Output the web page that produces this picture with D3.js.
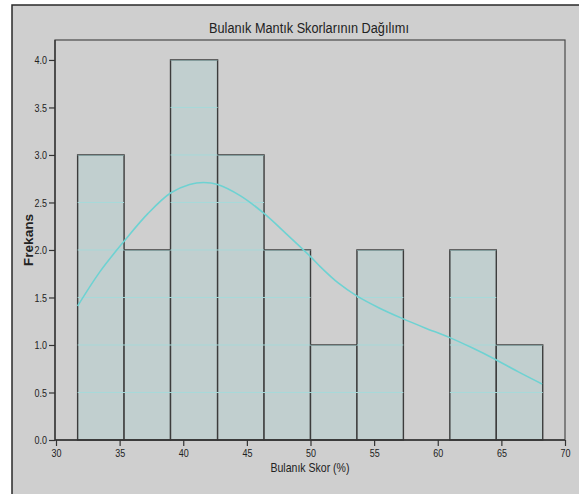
<!DOCTYPE html>
<html>
<head>
<meta charset="utf-8">
<script src="https://cdn.jsdelivr.net/npm/d3@7"></script>
<style>
  html, body { margin: 0; padding: 0; background: #ffffff; }
  svg { display: block; }
  text { font-family: "Liberation Sans", Arial, sans-serif; fill: #222; }
</style>
</head>
<body>
<div id="chart"></div>
<script>
// histogram bins (edges)
const binEdges = [31.7, 35.35, 39.0, 42.7, 46.35, 50.0, 53.65, 57.3, 60.95, 64.6, 68.25]
const binCounts = [3, 2, 4, 3, 2, 1, 2, 0, 2, 1]

// density curve, scaled to counts
const kdeX = [31.7, 33.5, 35.4, 37.2, 39.0, 40.5, 41.6, 42.7, 44.5, 46.3, 48.1, 50.0, 50.8, 52.2, 53.6, 55.4, 57.2, 59.0, 60.9, 62.7, 64.5, 66.3, 68.2]
const kdeY = [1.41, 1.78, 2.10, 2.38, 2.60, 2.69, 2.71, 2.69, 2.57, 2.39, 2.17, 1.93, 1.82, 1.65, 1.52, 1.39, 1.28, 1.18, 1.08, 0.97, 0.85, 0.72, 0.59]

const xTicks = [30, 35, 40, 45, 50, 55, 60, 65, 70]
const yTicks = [0, 0.5, 1.0, 1.5, 2.0, 2.5, 3.0, 3.5, 4.0]

const chartTitle = "Bulanık Mantık Skorlarının Dağılımı"
const xLabel = "Bulanık Skor (%)"
const yLabel = "Frekans"

let width = 579,
    height = 494
let margin = {top: 40, right: 14, bottom: 54, left: 55}

let svg = d3.select('#chart')
    .append('svg')
    .attr("width", width)
    .attr("height", height)

// outer panel
svg.append("rect")
    .attr("x", 12).attr("y", 5)
    .attr("width", width).attr("height", height)
    .attr("fill", "#cfcfcf")
svg.append("path")
    .attr("d", "M12," + height + "V5H" + width)
    .attr("fill", "none")
    .attr("stroke", "#2a2a2a")
    .attr("stroke-width", 1.5)

let x = d3.scaleLinear().domain([30, 70]).range([margin.left + 1, width - margin.right])
let y = d3.scaleLinear().domain([0, 4.21]).range([height - margin.bottom, margin.top])

let bins = binCounts.map(function (c, i) {
    return {x0: binEdges[i], x1: binEdges[i + 1], count: c}
})
let filled = bins.filter(function (d) { return d.count > 0 })

let g = svg.append("g")

// clip gridlines to the bars
let clip = svg.append("defs").append("clipPath").attr("id", "barclip")
clip.selectAll("rect")
    .data(filled)
    .enter().append("rect")
    .attr("x", function (d) { return x(d.x0) })
    .attr("y", function (d) { return y(d.count) })
    .attr("width", function (d) { return x(d.x1) - x(d.x0) })
    .attr("height", function (d) { return y(0) - y(d.count) })

g.selectAll(".bar")
    .data(filled)
    .enter().append("rect")
    .attr("class", "bar")
    .attr("x", function (d) { return x(d.x0) })
    .attr("y", function (d) { return y(d.count) })
    .attr("width", function (d) { return x(d.x1) - x(d.x0) })
    .attr("height", function (d) { return y(0) - y(d.count) })
    .attr("fill", "#c1cfcf")
    .attr("stroke", "#3c3c3c")
    .attr("stroke-width", 1.4)

g.append("g")
    .attr("clip-path", "url(#barclip)")
    .selectAll("line")
    .data(yTicks.slice(1))
    .enter().append("line")
    .attr("x1", x(30)).attr("x2", x(70))
    .attr("y1", function (d) { return y(d) })
    .attr("y2", function (d) { return y(d) })
    .attr("stroke", "#a6d9d9")
    .attr("stroke-width", 1)

// density line
let kde = kdeX.map(function (v, i) { return [v, kdeY[i]] })
g.append("path")
    .datum(kde)
    .attr("fill", "none")
    .attr("stroke", "#6ed2d2")
    .attr("stroke-width", 1.6)
    .attr("d", d3.line()
        .x(function (d) { return x(d[0]) })
        .y(function (d) { return y(d[1]) })
        .curve(d3.curveCatmullRom))

// plot frame
svg.append("rect")
    .attr("x", margin.left).attr("y", margin.top)
    .attr("width", x(70) - margin.left)
    .attr("height", y(0) - margin.top)
    .attr("fill", "none")
    .attr("stroke", "#4a4a4a")
    .attr("stroke-width", 1.2)

// axes
svg.append("g")
    .attr("transform", "translate(0," + y(0) + ")")
    .call(d3.axisBottom(x).tickValues(xTicks).tickSize(6).tickPadding(3).tickFormat(d3.format("d")))
svg.append("g")
    .attr("transform", "translate(" + margin.left + ",0)")
    .call(d3.axisLeft(y).tickValues(yTicks).tickSize(6).tickPadding(2).tickFormat(d3.format(".1f")))

svg.selectAll(".domain").remove()
svg.selectAll(".tick line").attr("stroke", "#333").attr("stroke-width", 1.2)
svg.selectAll(".tick text")
    .attr("fill", "#222")
    .style("font-size", "11.5px")
    .style("font-family", '"Liberation Sans", Arial, sans-serif')

// axis lines
svg.append("line")
    .attr("x1", margin.left).attr("x2", x(70))
    .attr("y1", y(0)).attr("y2", y(0))
    .attr("stroke", "#333").attr("stroke-width", 1.3)
svg.append("line")
    .attr("x1", margin.left).attr("x2", margin.left)
    .attr("y1", margin.top).attr("y2", y(0))
    .attr("stroke", "#333").attr("stroke-width", 1.3)

// labels
svg.append("text")
    .attr("x", 309).attr("y", 33)
    .attr("text-anchor", "middle")
    .style("font-size", "15.5px")
    .text(chartTitle)

svg.append("text")
    .attr("x", 310).attr("y", 472)
    .attr("text-anchor", "middle")
    .style("font-size", "13.5px")
    .text(xLabel)

svg.append("text")
    .attr("transform", "translate(32.5," + ((margin.top + y(0)) / 2) + ") rotate(-90)")
    .attr("text-anchor", "middle")
    .style("font-size", "13px")
    .style("font-weight", "bold")
    .text(yLabel)

// the original uses a narrow face: squeeze the glyphs
svg.selectAll("text").each(function () {
    let t = d3.select(this)
    let w = this.getComputedTextLength()
    let k = 0.78
    if (t.text() === yLabel) k = 1.05
    if (t.text() === chartTitle) k = 0.82
    t.attr("textLength", w * k).attr("lengthAdjust", "spacingAndGlyphs")
})
</script>
</body>
</html>
